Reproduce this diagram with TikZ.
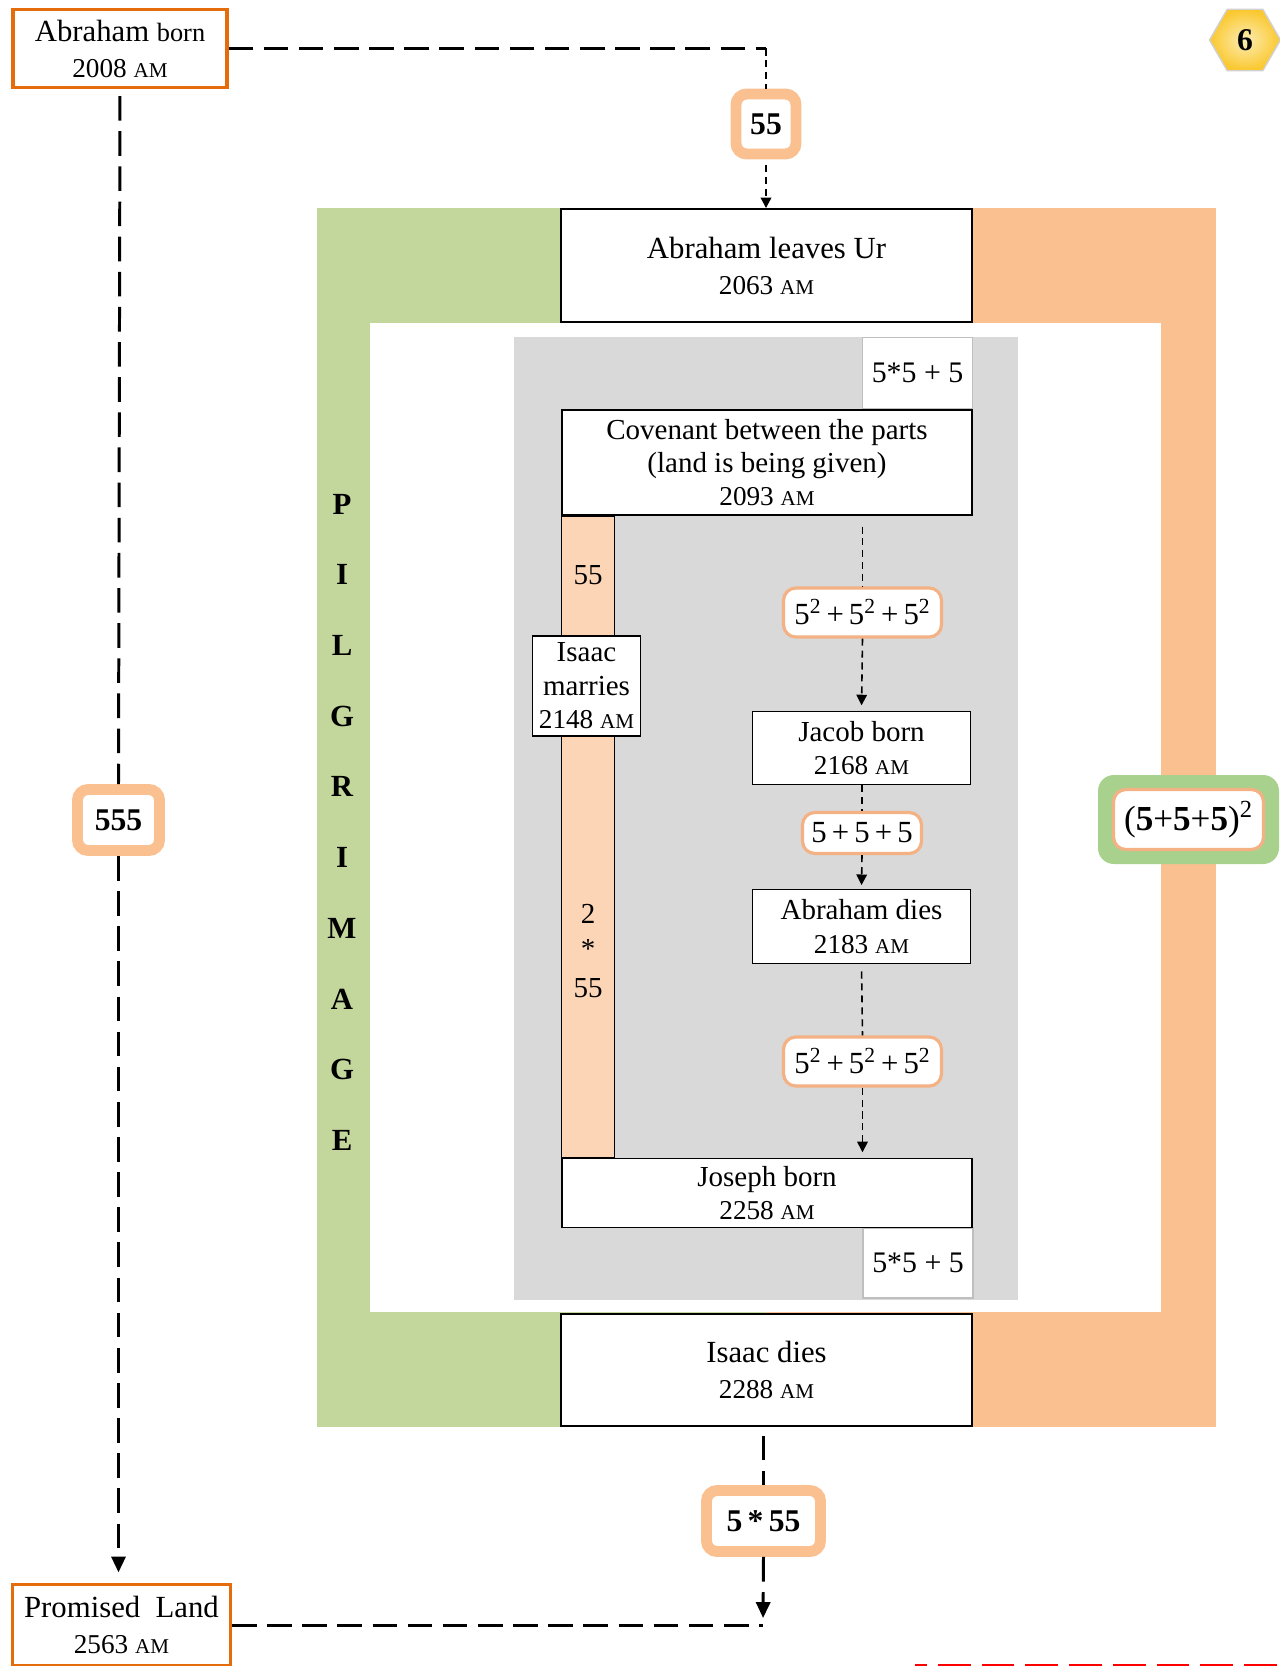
\documentclass[tikz,border=0pt]{standalone}
\usepackage{fontspec}
\setmainfont{Liberation Serif}
\usetikzlibrary{arrows.meta,shapes.geometric}

\definecolor{pilGreen}{RGB}{195,214,155}
\definecolor{pilOrange}{RGB}{250,192,144}
\definecolor{pilGray}{RGB}{217,217,217}
\definecolor{barFill}{RGB}{251,213,181}
\definecolor{edgeOrange}{RGB}{228,108,10}
\definecolor{sumOrange}{RGB}{244,177,131}
\definecolor{tagGreen}{RGB}{169,209,142}
\definecolor{hexIn}{RGB}{252,236,180}
\definecolor{hexOut}{RGB}{250,200,45}

\newcommand{\amyr}[1]{{\fontsize{15.5}{19}\selectfont #1~{\fontsize{12}{19}\selectfont AM}}}

\begin{document}
\begin{tikzpicture}[x=0.02cm, y=-0.02cm,
  evbox/.style={draw, fill=white, line width=1.1pt, inner sep=0pt, align=center,
                font=\fontsize{16.5}{19}\selectfont},
  bigbox/.style={evbox, font=\fontsize{17.5}{20.5}\selectfont},
  endbox/.style={bigbox, draw=edgeOrange, line width=1.8pt},
  numbox/.style={draw=pilOrange, line width=6.2pt, rounded corners=6pt, fill=white,
                 inner sep=0pt, font=\fontsize{18}{20}\selectfont\bfseries},
  sumbox/.style={draw=sumOrange, line width=1.8pt, rounded corners=7pt, fill=white,
                 inner sep=0pt, font=\fontsize{17.5}{20}\selectfont},
  markbox/.style={draw=black!25, line width=0.6pt, fill=white, inner sep=0pt,
                  font=\fontsize{17}{20}\selectfont},
  longdash/.style={line width=1.7pt, dash pattern=on 14pt off 6pt},
  shortdash/.style={line width=0.9pt, dash pattern=on 4pt off 2.8pt},
  tip/.style={-{Triangle[width=6pt,length=6pt]}},
  bigtip/.style={-{Triangle[width=8pt,length=9pt]}}]
  \useasboundingbox (0,0) rectangle (1279,1666);

  \fill[pilGreen] (317,208) rectangle (766,1427);
  \fill[pilOrange] (766,208) rectangle (1216,1427);
  \fill[white] (370,323) rectangle (1161,1312);
  \fill[pilGray] (514,337) rectangle (1018,1300);

  \foreach \ch [count=\i from 0] in {P,I,L,G,R,I,M,A,G,E}
    \node[font=\fontsize{17.5}{20}\selectfont\bfseries] (pil\i) at (342,{504+70.7*\i}) {\ch};

  \node[endbox, minimum width=4.28cm, minimum height=1.56cm] (born) at (120,48.5)
    {Abraham {\fontsize{15}{20}\selectfont born}\\\amyr{2008}};
  \node[endbox, minimum width=4.36cm, minimum height=1.62cm] (land) at (121.5,1625)
    {Promised~~Land\\\amyr{2563}};
  \node[bigbox, minimum width=8.22cm, minimum height=2.26cm] (leaves) at (766.5,265.5)
    {Abraham leaves Ur\\\amyr{2063}};
  \node[bigbox, minimum width=8.22cm, minimum height=2.24cm] (idies) at (766.5,1370)
    {Isaac dies\\\amyr{2288}};

  \node[draw, fill=barFill, line width=1.1pt, minimum width=1.06cm, minimum height=12.84cm]
    (bar) at (588,837) {};
  \node[font=\fontsize{16.5}{19}\selectfont] (bartop) at (588,575) {55};
  \node[font=\fontsize{16.5}{19}\selectfont, align=center] (barmid) at (588,951) {2\\[1pt]*\\[3pt]55};

  \node[markbox, minimum width=2.2cm, minimum height=1.42cm] (mark1) at (917.5,373) {5*5 + 5};
  \node[markbox, minimum width=2.2cm, minimum height=1.4cm] (mark2) at (918,1263) {5*5 + 5};
  \node[evbox, minimum width=8.2cm, minimum height=2.1cm] (cov) at (767,462.5)
    {Covenant between the parts\\(land is being given)\\\amyr{2093}};
  \node[evbox, minimum width=2.16cm, minimum height=2.0cm] (marries) at (586.5,686)
    {Isaac\\marries\\\amyr{2148}};
  \node[evbox, minimum width=4.36cm, minimum height=1.46cm] (jacob) at (861.5,748)
    {Jacob born\\\amyr{2168}};
  \node[evbox, minimum width=4.36cm, minimum height=1.48cm] (adies) at (861.5,926.5)
    {Abraham dies\\\amyr{2183}};
  \node[evbox, minimum width=8.2cm, minimum height=1.38cm] (joseph) at (767,1193)
    {Joseph born\\\amyr{2258}};

  \node[sumbox, minimum width=3.16cm, minimum height=0.98cm] (sq1) at (862.5,612.5)
    {5\textsuperscript{2}\,+\,5\textsuperscript{2}\,+\,5\textsuperscript{2}};
  \node[sumbox, minimum width=2.38cm, minimum height=0.82cm] (sum) at (862,833)
    {5\,+\,5\,+\,5};
  \node[sumbox, minimum width=3.16cm, minimum height=0.98cm] (sq2) at (862.5,1061.5)
    {5\textsuperscript{2}\,+\,5\textsuperscript{2}\,+\,5\textsuperscript{2}};

  \draw[shortdash, shorten <=6pt] (sq1 |- cov.south) -- (sq1.north);
  \draw[shortdash, tip, shorten >=3pt] (sq1.south) -- (jacob.north);
  \draw[shortdash] (sum |- jacob.south) -- (sum.north);
  \draw[shortdash, tip, shorten >=2pt] (sum.south) -- (adies.north);
  \draw[shortdash, shorten <=4pt] (adies.south) -- (sq2.north);
  \draw[shortdash, tip, shorten >=3pt] (sq2.south) -- (sq2 |- joseph.north);

  \node[numbox, minimum width=1.2cm, minimum height=1.2cm] (box55) at (766,124) {55};
  \node[numbox, minimum width=1.64cm, minimum height=1.22cm] (box555) at (118.5,820) {555};
  \node[numbox, minimum width=2.28cm, minimum height=1.22cm] (box555b) at (763.5,1521) {5\,*\,55};

  \coordinate (topbend) at (766,48.5);
  \coordinate (botbend) at (763,1625);
  \draw[longdash] (born.east) -- (topbend);
  \draw[shortdash, line width=1.2pt] (topbend) -- (box55.north);
  \draw[shortdash, tip, line width=1.2pt, shorten <=3pt] (box55.south) -- (box55 |- leaves.north);
  \draw[longdash, shorten <=4pt] (born.south) -- (box555.north);
  \draw[longdash, bigtip, shorten >=6pt] (box555.south) -- (box555 |- land.north);
  \draw[longdash, shorten <=5pt] (box555b |- idies.south) -- (box555b.north);
  \draw[longdash, bigtip, shorten >=4pt] (box555b.south) -- (botbend);
  \draw[longdash] (land.east |- botbend) -- (botbend);

  \node[fill=tagGreen, rounded corners=9pt, minimum width=3.62cm, minimum height=1.78cm]
    (tagout) at (1188.5,819.5) {};
  \node[draw=sumOrange, line width=1.8pt, fill=white, rounded corners=7pt, inner sep=0pt,
        minimum width=3.0cm, minimum height=1.2cm, font=\fontsize{20}{22}\selectfont]
    (tag) at (tagout) {(\textbf{5}+\textbf{5}+\textbf{5})\textsuperscript{2}};

  \node[regular polygon, regular polygon sides=6, minimum size=1.42cm, inner sep=0pt,
        draw=black!18, line width=0.8pt, inner color=hexIn, outer color=hexOut,
        font=\fontsize{18}{20}\selectfont\bfseries] (badge) at (1245,40) {6};

  \draw[red, line width=3.4pt, dash pattern=on 18.7pt off 6.2pt, dash phase=11.9pt]
    (915,1667) -- (1279,1667);
\end{tikzpicture}
\end{document}
